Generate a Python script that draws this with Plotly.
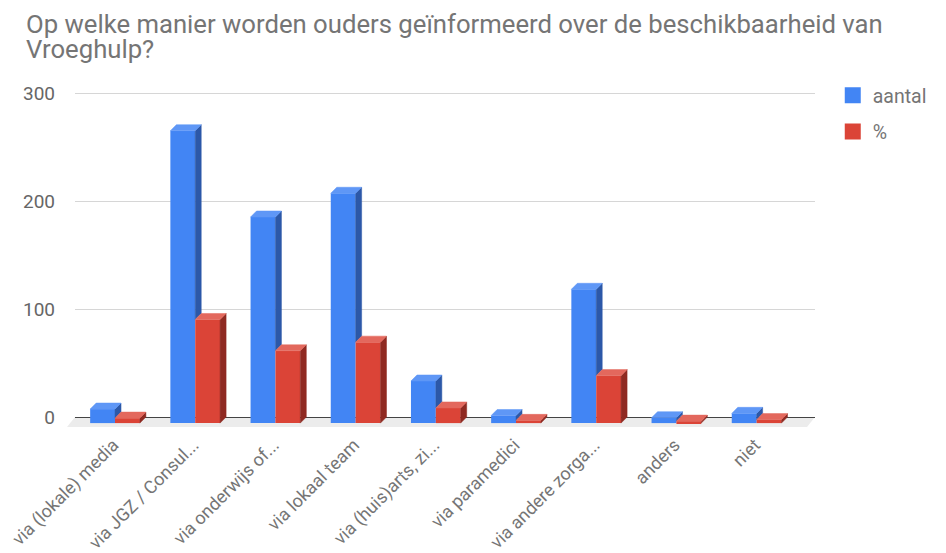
import plotly.graph_objects as go

# ---- data ----
categories = ["via (lokale) media", "via JGZ / Consul...", "via onderwijs of...",
              "via lokaal team", "via (huis)arts, zi...", "via paramedici",
              "via andere zorga...", "anders", "niet"]
aantal = [13, 271, 191, 213, 39, 7, 124, 5, 9]
procent = [4.6, 96, 67, 75, 14, 2.5, 44, 1.8, 3.2]
series_names = ["aantal", "%"]
y_ticks = [0, 100, 200, 300]

# ---- style ----
W, H = 946, 553
ML, MR, MT, MB = 75, 131, 88, 123
BLUE, BLUE_TOP, BLUE_SIDE = "#4285f4", "#5f97f6", "#2c58a8"
RED, RED_TOP, RED_SIDE = "#db4437", "#e3685d", "#8f2a22"
FONT = "Roboto"

bw = 0.31      # bar width in category units
dx = 0.075     # 3d depth, horizontal (category units)
dy = 5.6       # 3d depth, vertical (value units)
x_range = [-0.499, 8.728]
y_range = [-12, 305]

xs = list(range(len(categories)))

fig = go.Figure()

# front faces (real bars)
fig.add_trace(go.Bar(x=xs, y=aantal, base=[-dy] * len(xs), width=bw, offset=-bw,
                     marker=dict(color=BLUE, line=dict(width=0)), name=series_names[0],
                     showlegend=False))
fig.add_trace(go.Bar(x=xs, y=procent, base=[-dy] * len(xs), width=bw, offset=0,
                     marker=dict(color=RED, line=dict(width=0)), name=series_names[1],
                     showlegend=False))


def faces(values, left_offsets, lower=None):
    """Build side and top polygons (data coords) for 3d look."""
    sx, sy, tx, ty = [], [], [], []
    for i, v in enumerate(values):
        xl = i + left_offsets
        xr = xl + bw
        low = -dy if lower is None else min(lower[i], v) - dy
        # side face
        sx += [xr, xr, xr + dx, xr + dx, xr, None]
        sy += [low, v - dy, v, low + dy, low, None]
        # top face
        tx += [xl, xr, xr + dx, xl + dx, xl, None]
        ty += [v - dy, v - dy, v, v, v - dy, None]
    return sx, sy, tx, ty


bsx, bsy, btx, bty = faces(aantal, -bw, lower=procent)
rsx, rsy, rtx, rty = faces(procent, 0)

for px_, py_, col in [(bsx, bsy, BLUE_SIDE), (btx, bty, BLUE_TOP),
                      (rsx, rsy, RED_SIDE), (rtx, rty, RED_TOP)]:
    fig.add_trace(go.Scatter(x=px_, y=py_, mode="lines", fill="toself", fillcolor=col,
                             line=dict(color=col, width=0.5), hoverinfo="skip",
                             showlegend=False))

# legend entries
for nm, col in zip(series_names, [BLUE, RED]):
    fig.add_trace(go.Scatter(x=[None], y=[None], mode="markers", name=nm, legendgroup=nm,
                             marker=dict(symbol="square", size=16, color=col)))

# floor shading (paper coords computed from axis ranges)
plot_w = W - ML - MR
plot_h = H - MT - MB
yspan = y_range[1] - y_range[0]
y0p = (0 - y_range[0]) / yspan
y1p = (-9.3 - y_range[0]) / yspan
sl = 8 / plot_w
fig.add_shape(type="path", xref="paper", yref="paper", layer="below",
              path=f"M0,{y0p} L1,{y0p} L{1 - sl},{y1p} L{-sl},{y1p} Z",
              fillcolor="#ececec", line=dict(width=0))


def px_to_paper_x(px):
    return (px - ML) / plot_w


def px_to_paper_y(py):
    return 1 - (py - MT) / plot_h


fig.update_layout(
    width=W, height=H,
    margin=dict(l=ML, r=MR, t=MT, b=MB, autoexpand=False),
    paper_bgcolor="white", plot_bgcolor="white",
    barmode="overlay",
    font=dict(family=FONT, color="#666666"),
    showlegend=True,
    legend=dict(x=1.024, y=1.035, xanchor="left", yanchor="top",
                font=dict(size=19.5, color="#757575"), tracegroupgap=8,
                bgcolor="rgba(0,0,0,0)"),
    xaxis=dict(range=x_range, tickmode="array", tickvals=[x - 0.02 for x in xs],
               ticktext=categories, tickangle=-45, showgrid=False, zeroline=False,
               showline=False, ticks="", automargin=False,
               tickfont=dict(size=18, color="#757575")),
    yaxis=dict(range=y_range, tickmode="array", tickvals=y_ticks, showgrid=True,
               gridcolor="#d6d6d6", gridwidth=1, zeroline=True, zerolinecolor="#444444",
               zerolinewidth=1.3, ticks="", ticklabelstandoff=19, automargin=False,
               tickfont=dict(size=19, color="#666666")),
    annotations=[
        dict(text="Op welke manier worden ouders geïnformeerd over de beschikbaarheid van",
             xref="paper", yref="paper", x=px_to_paper_x(24), y=px_to_paper_y(24),
             xanchor="left", yanchor="middle", showarrow=False,
             font=dict(size=25.7, color="#757575", family=FONT)),
        dict(text="Vroeghulp?",
             xref="paper", yref="paper", x=px_to_paper_x(24), y=px_to_paper_y(49),
             xanchor="left", yanchor="middle", showarrow=False,
             font=dict(size=25.7, color="#757575", family=FONT)),
    ],
)

fig.write_html("out.html", config={"displayModeBar": False},
               post_script="document.body.style.margin='0';")
